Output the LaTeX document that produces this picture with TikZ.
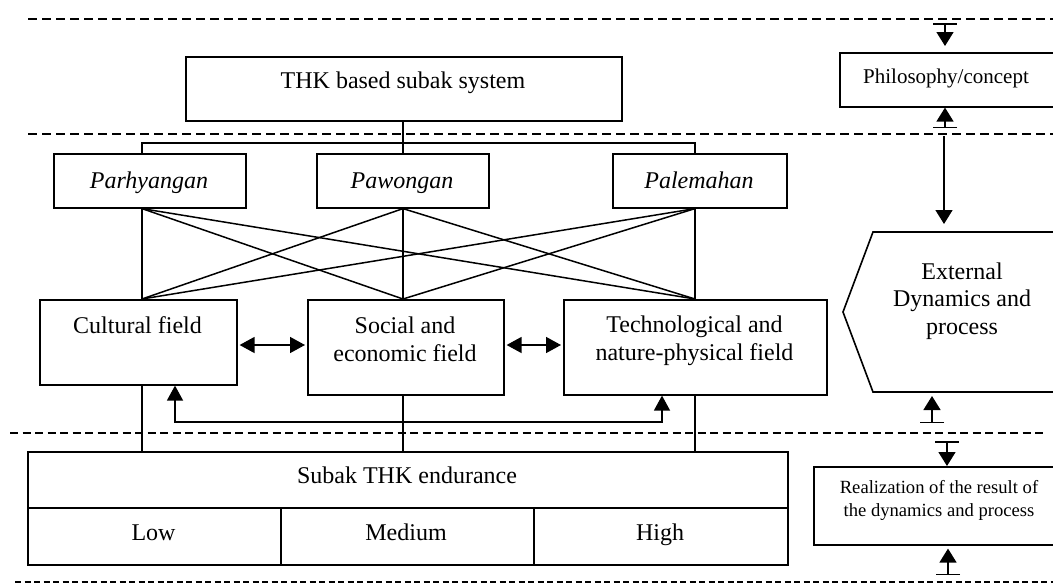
\documentclass[tikz,border=0pt]{standalone}
\usepackage{fontspec}
\setmainfont{Liberation Serif}
\usetikzlibrary{arrows.meta}
\begin{document}
\begin{tikzpicture}[x=1pt,y=-1pt,line width=1.5pt,
  box/.style={draw,line width=1.6pt,inner sep=0pt,anchor=north west},
  txt/.style={inner sep=0pt,anchor=base,align=center,font=\fontsize{24}{28}\selectfont},
  divider/.style={dash pattern=on 9pt off 5pt,line width=1.5pt},
  dbl/.style={{Triangle[length=15pt,width=16pt]}-{Triangle[length=15pt,width=16pt]}},
  arr/.style={-{Triangle[length=14pt,width=17pt]}},
  teearr/.style={{Bar[width=24pt,line width=1.5pt]}-{Triangle[length=14pt,width=17pt]}}]
\useasboundingbox (0,0) rectangle (1053,584);
% dividers
\draw[divider] (28,19) -- (1060,19);
\draw[divider] (28,134) -- (1060,134);
\draw[divider,dash pattern=on 8pt off 4.5pt] (10,433) -- (1043,433);
\draw[divider,dash pattern=on 6pt off 3.5pt] (15,582) -- (1060,582);
% boxes
\node[box,minimum width=436pt,minimum height=64pt] (thk) at (185,56) {};
\node[box,minimum width=240pt,minimum height=54pt] (phil) at (839,52) {};
\node[box,minimum width=192pt,minimum height=54pt] (par) at (53,153) {};
\node[box,minimum width=172pt,minimum height=54pt] (paw) at (316,153) {};
\node[box,minimum width=174pt,minimum height=54pt] (pal) at (612,153) {};
\node[box,minimum width=197pt,minimum height=85pt] (cult) at (39,299) {};
\node[box,minimum width=196pt,minimum height=95pt] (soc) at (307,299) {};
\node[box,minimum width=263pt,minimum height=95pt] (tech) at (563,299) {};
\node[box,minimum width=760pt,minimum height=56pt] (endur) at (27,451) {};
\node[box,minimum width=253pt,minimum height=57pt] (low) at (27,507) {};
\node[box,minimum width=253pt,minimum height=57pt] (med) at (280,507) {};
\node[box,minimum width=254pt,minimum height=57pt] (high) at (533,507) {};
\node[box,minimum width=260pt,minimum height=78pt] (real) at (813,466) {};
\draw[line width=1.6pt] (873,232) -- (843,312) -- (873,392) -- (1080,392) -- (1080,232) -- cycle;
\coordinate (extN) at (944,232);
\coordinate (extS) at (932,392);
% texts (multi-line nodes anchored at the baseline of their last line)
\node[txt] (thkT) at (403,88) {THK based subak system};
\node[txt,font=\fontsize{21}{25}\selectfont] (philT) at (946,83) {Philosophy/concept};
\node[txt,font=\fontsize{24}{28}\itshape] (parT) at (149,188) {Parhyangan};
\node[txt,font=\fontsize{24}{28}\itshape] (pawT) at (402,188) {Pawongan};
\node[txt,font=\fontsize{24}{28}\itshape] (palT) at (699,188) {Palemahan};
\node[txt] (cultT) at (137.5,333) {Cultural field};
\node[txt] (socT) at (405,361) {Social and\\economic field};
\node[txt] (techT) at (694.5,360) {Technological and\\nature-physical field};
\node[txt,font=\fontsize{24}{27.5}\selectfont] (extT) at (962,334) {External\\Dynamics and\\process};
\node[txt] (endurT) at (407,483) {Subak THK endurance};
\node[txt] (lowT) at (153.5,540) {Low};
\node[txt] (medT) at (406,540) {Medium};
\node[txt] (highT) at (660,540) {High};
\node[txt,font=\fontsize{18.6}{23}\selectfont] (realT) at (939,516) {Realization of the result of\\the dynamics and process};
% columns
\coordinate (c1) at (142,0);
\coordinate (c2) at (403,0);
\coordinate (c3) at (695,0);
\coordinate (hb) at (0,143);
\draw (thk.south -| c2) -- (paw.north -| c2);
\draw (par.north -| c1) -- (c1 |- hb) -- (c3 |- hb) -- (pal.north -| c3);
\foreach \a/\ca in {par/c1,paw/c2,pal/c3}
  \foreach \b/\cb in {cult/c1,soc/c2,tech/c3}
    \draw (\a.south -| \ca) -- (\b.north -| \cb);
\draw (cult.south -| c1) -- (endur.north -| c1);
\draw (soc.south -| c2) -- (endur.north -| c2);
\draw (tech.south -| c3) -- (endur.north -| c3);
% horizontal double arrows
\coordinate (ya) at (0,345);
\draw[dbl,shorten <=2pt,shorten >=2pt] (cult.east |- ya) -- (soc.west |- ya);
\draw[dbl,shorten <=2pt,shorten >=2pt] (soc.east |- ya) -- (tech.west |- ya);
% feedback
\coordinate (fbL) at (175,422);
\coordinate (fbR) at (662,422);
\draw[dbl] (cult.south -| fbL) -- (fbL) -- (fbR) -- (tech.south -| fbR);
% right column
\coordinate (r1) at (945,23);
\coordinate (r2) at (945,128);
\coordinate (r3) at (944,136);
\coordinate (r4) at (932,423);
\coordinate (r5) at (947,441);
\coordinate (r6) at (948,575);
\draw[teearr,shorten >=6pt] (r1) -- (phil.north -| r1);
\draw[teearr] (r2) -- (phil.south -| r2);
\draw[arr,shorten >=8pt] (r3) -- (extN);
\draw[teearr,shorten >=4pt] (r4) -- (extS);
\draw[teearr] (r5) -- (real.north -| r5);
\draw[teearr,shorten >=3pt] (r6) -- (real.south -| r6);
\end{tikzpicture}
\end{document}
